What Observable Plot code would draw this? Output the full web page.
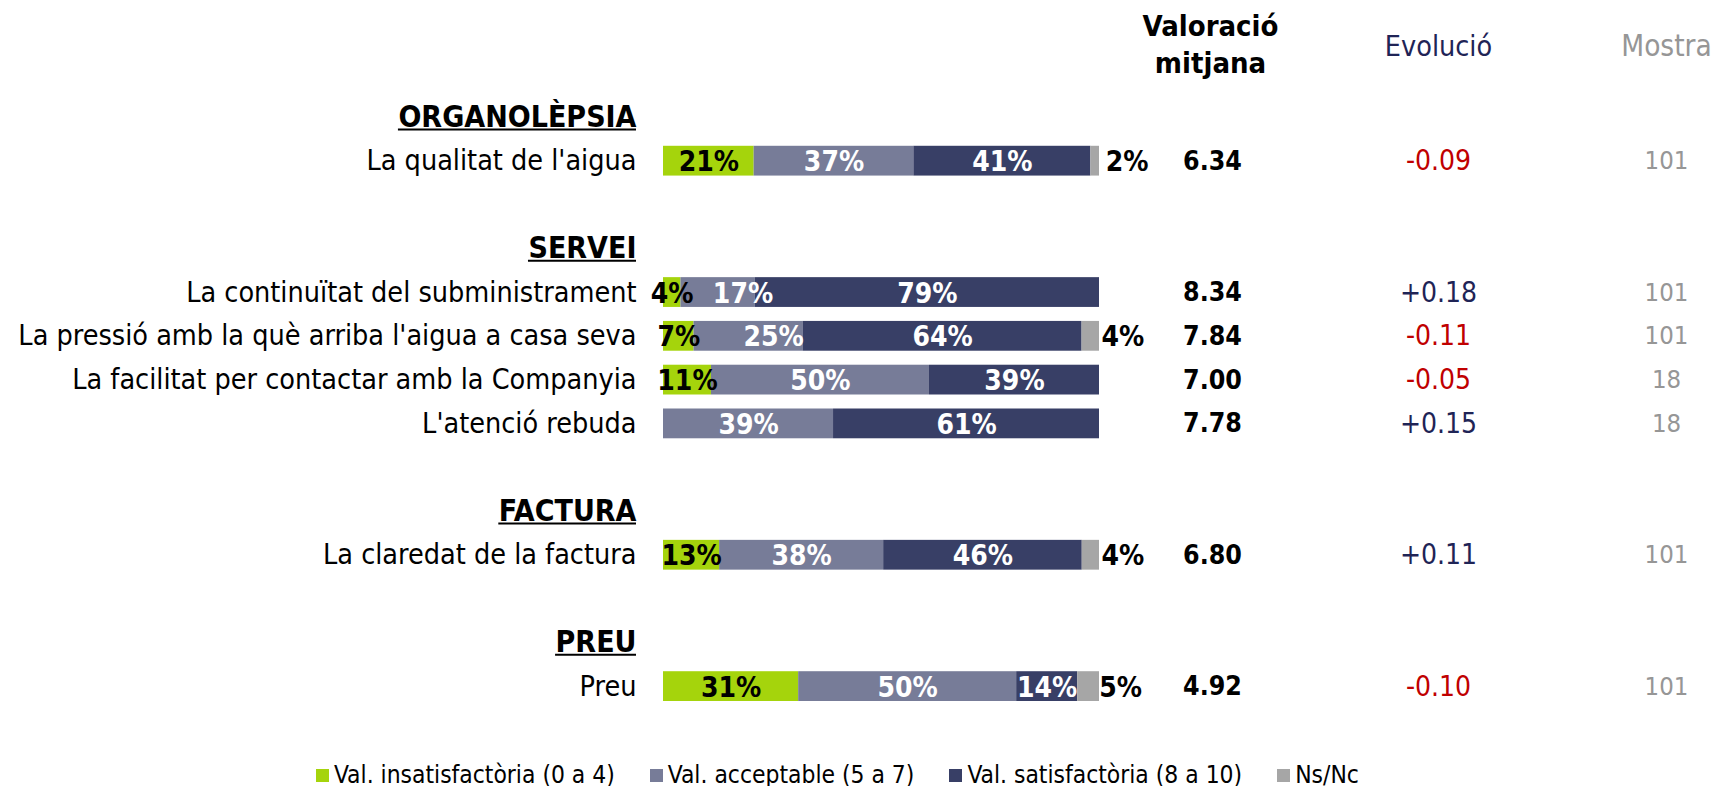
<!DOCTYPE html>
<html>
<head>
<meta charset="utf-8">
<script src="https://cdn.jsdelivr.net/npm/d3@7"></script>
<script src="https://cdn.jsdelivr.net/npm/@observablehq/plot@0.6"></script>
<style>
  html, body { margin: 0; padding: 0; background: #fff; }
  #wrap { position: relative; width: 1713px; height: 786px; font-family: "DejaVu Sans Condensed", "DejaVu Sans", sans-serif; }
  #legend { position: absolute; left: 316px; top: 760px; height: 28px; display: flex; align-items: center; font-size: 24.4px; color: #000; white-space: nowrap; }
  #legend .item { display: flex; align-items: center; margin-right: 35px; }
  #legend .sw { width: 13px; height: 13px; margin-right: 5px; margin-top: 3px; }
</style>
</head>
<body>
<div id="wrap"></div>
<script>
// ---- data ----
const sections = ["ORGANOLÈPSIA", "SERVEI", "FACTURA", "PREU"];
const items = [
  "La qualitat de l'aigua",
  "La continuïtat del subministrament",
  "La pressió amb la què arriba l'aigua a casa seva",
  "La facilitat per contactar amb la Companyia",
  "L'atenció rebuda",
  "La claredat de la factura",
  "Preu"
];
const itemSection = ["ORGANOLÈPSIA", "SERVEI", "SERVEI", "SERVEI", "SERVEI", "FACTURA", "PREU"];
const categories = ["Val. insatisfactòria (0 a 4)", "Val. acceptable (5 a 7)", "Val. satisfactòria (8 a 10)", "Ns/Nc"];
const insatisfactoria = [21, 4, 7, 11, 0, 13, 31];
const acceptable = [37, 17, 25, 50, 39, 38, 50];
const satisfactoria = [41, 79, 64, 39, 61, 46, 14];
const nsnc = [2, 0, 4, 0, 0, 4, 5];
const mitjana = [6.34, 8.34, 7.84, 7.00, 7.78, 6.80, 4.92];
const evolucio = [-0.09, 0.18, -0.11, -0.05, 0.15, 0.11, -0.10];
const mostra = [101, 101, 101, 18, 18, 101, 101];
const colHeaders = ["Valoració\nmitjana", "Evolució", "Mostra"];

// ---- styles ----
const catColors = ["#a5d40c", "#777c98", "#383f66", "#a6a6a6"];
const FONT = "\"DejaVu Sans Condensed\", \"DejaVu Sans\", sans-serif";
const red = "#c00000", navy = "#1f2456", grey = "#969696";
const xRange = [663, 1099];
const pxPerUnit = xRange[1] - xRange[0];
const labelGap = 27;      // px between labels and bar start
const headerSize = 30;

// ---- derived tables ----
const rows = items.map((label, i) => ({label, section: itemSection[i], mean: mitjana[i], evol: evolucio[i], n: mostra[i]}));
const series = [insatisfactoria, acceptable, satisfactoria, nsnc];
const long = [];
items.forEach((label, i) => categories.forEach((cat, j) => long.push({label, cat, ci: j, value: series[j][i]})));

// slots for the y band scale: section header, its items, and a blank gap between sections
const slots = [];
sections.forEach((s, k) => {
  if (k > 0) slots.push("gap" + k);
  slots.push(s);
  rows.filter(r => r.section === s).forEach(r => slots.push(r.label));
});

// width of each section header text (for its underline)
const ctx = document.createElement("canvas").getContext("2d");
ctx.font = `bold ${headerSize}px ${FONT}`;
const headerWidth = s => ctx.measureText(s).width;

const stackOpts = (extra) => Plot.stackX({x: "value", y: "label", z: "cat", offset: "normalize", ...extra});
const pct = d => d.value > 0 ? d.value + "%" : "";
// a narrow "acceptable" segment has its label nudged right, clear of the overflowing green label
const narrow = d => d.ci === 1 && d.value < 30;

const chart = Plot.plot({
  width: 1713,
  height: 750,
  marginTop: 95,
  marginBottom: 42,
  marginLeft: 0,
  marginRight: 0,
  style: {fontFamily: FONT, background: "#fff"},
  x: {domain: [0, 1], range: xRange, axis: null},
  y: {domain: slots, padding: 0, round: false, axis: null},
  color: {domain: categories, range: catColors},
  marks: [
    Plot.barX(long, stackOpts({fill: "cat", insetTop: 7, insetBottom: 7})),
    // labels inside segments
    Plot.text(long, stackOpts({text: d => (d.ci === 2 || (d.ci === 1 && !narrow(d))) ? pct(d) : "", fill: "#fff", fontWeight: "bold", fontSize: 28, dy: 1})),
    Plot.text(long, stackOpts({text: d => narrow(d) ? pct(d) : "", fill: "#fff", fontWeight: "bold", fontSize: 28, dx: 25, dy: 1})),
    Plot.text(long, stackOpts({text: d => d.ci === 0 ? pct(d) : "", fill: "#000", fontWeight: "bold", fontSize: 28, dy: 1})),
    Plot.text(long, stackOpts({text: d => d.ci === 3 ? pct(d) : "", fill: "#000", fontWeight: "bold", fontSize: 28, dx: 32, dy: 1})),
    // section headers (bold, underlined)
    Plot.text(sections, {x: 0, y: d => d, text: d => d, textAnchor: "end", dx: -labelGap, fontWeight: "bold", fontSize: headerSize, fill: "#000"}),
    Plot.ruleY(sections, {y: d => d, x1: d => -(labelGap + headerWidth(d)) / pxPerUnit, x2: -labelGap / pxPerUnit, dy: 12, stroke: "#000", strokeWidth: 2}),
    // item labels
    Plot.text(rows, {x: 0, y: "label", text: "label", textAnchor: "end", dx: -labelGap, fontSize: 28.5, fill: "#000"}),
    // mean
    Plot.text(rows, {x: 1, y: "label", text: d => d.mean.toFixed(2), dx: 113, fontWeight: "bold", fontSize: 26.5, fill: "#000"}),
    // evolution
    Plot.text(rows.filter(d => d.evol < 0), {x: 1, y: "label", text: d => d.evol.toFixed(2), dx: 339, fontSize: 28, fill: red}),
    Plot.text(rows.filter(d => d.evol >= 0), {x: 1, y: "label", text: d => "+" + d.evol.toFixed(2), dx: 339, fontSize: 28, fill: navy}),
    // sample
    Plot.text(rows, {x: 1, y: "label", text: d => String(d.n), dx: 567, fontSize: 25.5, fill: grey}),
    // column headers
    Plot.text([colHeaders[0]], {x: 1, frameAnchor: "top", lineAnchor: "middle", text: d => d, dx: 111, dy: -53, lineHeight: 1.28, fontWeight: "bold", fontSize: 29, fill: "#000"}),
    Plot.text([colHeaders[1]], {x: 1, frameAnchor: "top", lineAnchor: "middle", text: d => d, dx: 339, dy: -49, fontSize: 28.5, fill: navy}),
    Plot.text([colHeaders[2]], {x: 1, frameAnchor: "top", lineAnchor: "middle", text: d => d, dx: 567, dy: -49, fontSize: 29.5, fill: grey})
  ]
});

const wrap = document.getElementById("wrap");
wrap.appendChild(chart);

// legend
const legend = document.createElement("div");
legend.id = "legend";
categories.forEach((c, i) => {
  const it = document.createElement("div");
  it.className = "item";
  const sw = document.createElement("span");
  sw.className = "sw";
  sw.style.background = catColors[i];
  const tx = document.createElement("span");
  tx.textContent = c;
  it.appendChild(sw); it.appendChild(tx);
  legend.appendChild(it);
});
wrap.appendChild(legend);
</script>
</body>
</html>
